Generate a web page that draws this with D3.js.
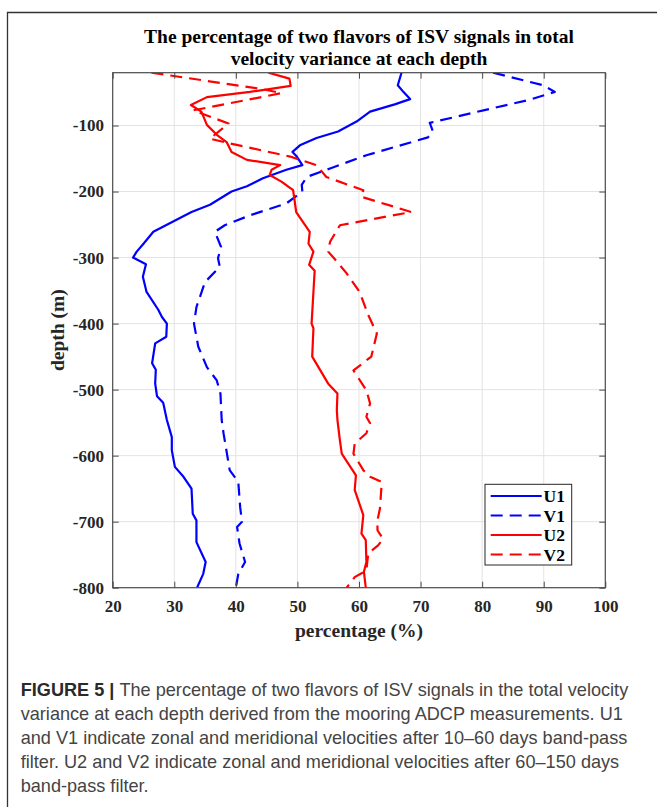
<!DOCTYPE html>
<html>
<head>
<meta charset="utf-8">
<script src="https://cdn.jsdelivr.net/npm/d3@7"></script>
<style>
  body { margin: 0; background: #fff; }
  svg { display: block; }
</style>
</head>
<body>
<svg id="fig" width="657" height="807"></svg>
<script>
// Depth profiles (m) and percentage of total velocity variance (%)
const u1Depth = [-20,-39,-49,-60,-68,-79,-94,-109,-119,-130,-140,-147,-160,-167,-180,-192,-200,-220,-231,-261,-279,-291,-300,-310,-329,-352,-379,-390,-400,-420,-430,-460,-470,-491,-510,-520,-546,-572,-592,-617,-632,-650,-688,-698,-731,-761,-779,-800];
const u1Pct   = [66.9,66.3,67.2,68.3,65.8,61.8,59.6,56.6,53.1,50.4,49.2,49.9,50.8,48.2,44.4,41.8,39.3,35.8,32.8,26.6,25.0,23.9,23.3,25.4,24.9,25.5,27.4,28.0,28.8,28.7,26.9,26.4,27.0,26.9,27.2,28.2,28.8,29.6,29.6,30.1,31.5,32.8,33.0,33.6,33.6,35.1,34.7,33.7];

const v1Depth = [-20,-39,-49,-61,-77,-96,-109,-118,-145,-165,-178,-190,-200,-218,-236,-251,-261,-284,-301,-314,-337,-375,-400,-435,-466,-486,-506,-546,-566,-622,-640,-678,-700,-708,-733,-761,-779,-800];
const v1Pct   = [81.8,89.9,91.8,87.7,80.2,71.5,72.0,71.2,61.2,55.3,51.5,50.7,50.8,48.2,42.3,38.2,36.6,37.6,37.1,37.4,35.0,33.6,33.2,33.9,35.3,36.9,37.5,37.7,38.0,39.0,40.4,40.7,41.0,40.2,40.6,41.5,40.4,40.0];

const u2Depth = [-20,-29,-40,-49,-57,-69,-79,-99,-114,-125,-140,-152,-160,-167,-175,-185,-198,-231,-261,-279,-291,-311,-320,-400,-407,-450,-491,-506,-531,-546,-577,-597,-630,-652,-690,-718,-728,-761,-776,-800];
const u2Pct   = [45.3,48.7,48.9,42.3,35.3,32.7,34.4,35.3,36.9,38.5,39.3,41.8,47.2,45.8,45.5,47.4,49.3,49.8,52.0,51.8,52.6,51.9,52.8,52.3,52.6,52.4,55.0,56.5,56.4,56.5,56.9,57.2,59.5,59.3,60.7,60.4,61.1,61.2,60.8,61.1];

const v2Depth = [-20,-45,-51,-77,-97,-120,-126,-147,-160,-178,-198,-208,-231,-251,-276,-291,-306,-324,-352,-387,-415,-450,-471,-501,-521,-541,-551,-566,-582,-597,-622,-632,-640,-680,-698,-713,-726,-736,-748,-774,-784,-800];
const v2Pct   = [26.3,44.4,47.4,33.1,38.8,35.8,38.5,48.8,53.1,54.7,60.7,60.4,68.5,56.9,55.3,55.0,56.4,58.0,60.1,61.5,62.9,62.0,59.1,61.2,61.8,61.2,61.8,61.2,59.3,59.1,60.7,61.8,63.7,63.4,63.0,63.0,63.9,63.1,61.5,61.2,59.3,58.0];

const seriesNames = ["U1", "V1", "U2", "V2"];
const xTicks = [20, 30, 40, 50, 60, 70, 80, 90, 100];
const yTicks = [-100, -200, -300, -400, -500, -600, -700, -800];

const titleLines = ["The percentage of two flavors of ISV signals in total",
                    "velocity variance at each depth"];
const xLabel = "percentage (%)";
const yLabel = "depth (m)";
const captionHead = "FIGURE 5 | ";
const captionLines = [
  "The percentage of two flavors of ISV signals in the total velocity",
  "variance at each depth derived from the mooring ADCP measurements. U1",
  "and V1 indicate zonal and meridional velocities after 10\u201360 days band-pass",
  "filter. U2 and V2 indicate zonal and meridional velocities after 60\u2013150 days",
  "band-pass filter."
];

// ---- layout ----
const plot = { left: 112.7, right: 605.3, top: 72.7, bottom: 587.7 };
const serif = "'Liberation Serif', 'Times New Roman', serif";
const sans = "'Liberation Sans', Arial, Helvetica, sans-serif";
const colors = { U1: "#0000ff", V1: "#0000ff", U2: "#ff0000", V2: "#ff0000" };
const dashes = { U1: null, V1: "12,7", U2: null, V2: "12,7" };

const svg = d3.select("#fig");

// outer figure frame
svg.append("path")
  .attr("d", "M7.5,820 L7.5,12.5 L670,12.5")
  .attr("fill", "none")
  .attr("stroke", "#333")
  .attr("stroke-width", 1.3);

const x = d3.scaleLinear().domain([20, 100]).range([plot.left, plot.right]);
const y = d3.scaleLinear().domain([-800, -20]).range([plot.bottom, plot.top]);

// grid
const grid = svg.append("g").attr("class", "grid");
grid.selectAll("line.gx").data(xTicks.slice(1, -1)).join("line")
  .attr("x1", d => x(d)).attr("x2", d => x(d))
  .attr("y1", plot.top).attr("y2", plot.bottom)
  .attr("stroke", "#e3e3e3").attr("stroke-width", 1);
grid.selectAll("line.gy").data(yTicks.slice(0, -1)).join("line")
  .attr("y1", d => y(d)).attr("y2", d => y(d))
  .attr("x1", plot.left).attr("x2", plot.right)
  .attr("stroke", "#e3e3e3").attr("stroke-width", 1);

// series
const series = [
  { name: "U1", depth: u1Depth, pct: u1Pct },
  { name: "V1", depth: v1Depth, pct: v1Pct },
  { name: "U2", depth: u2Depth, pct: u2Pct },
  { name: "V2", depth: v2Depth, pct: v2Pct }
];
const line = d3.line().x(d => x(d[0])).y(d => y(d[1]));
svg.append("defs").append("clipPath").attr("id", "plotclip")
  .append("rect")
  .attr("x", plot.left).attr("y", plot.top)
  .attr("width", plot.right - plot.left).attr("height", plot.bottom - plot.top);
const lines = svg.append("g").attr("clip-path", "url(#plotclip)");
series.forEach(s => {
  lines.append("path")
    .datum(d3.zip(s.pct, s.depth))
    .attr("d", line)
    .attr("fill", "none")
    .attr("stroke", colors[s.name])
    .attr("stroke-width", 2.2)
    .attr("stroke-linejoin", "round")
    .attr("stroke-dasharray", dashes[s.name]);
});

// axes (ticks point inward, on all four sides)
const axisColor = "#4a4a4a";
const plainNum = d => String(d);   // ASCII hyphen for negative depths
function styleAxis(g, hideLabels) {
  g.select(".domain").remove();
  g.selectAll(".tick line").attr("stroke", axisColor).attr("stroke-width", 1);
  g.selectAll(".tick text")
    .attr("font-family", serif).attr("font-weight", "bold")
    .attr("font-size", 17).attr("fill", "#262626");
  if (hideLabels) g.selectAll(".tick text").remove();
}
svg.append("g").attr("transform", `translate(0,${plot.bottom})`)
  .call(d3.axisBottom(x).tickValues(xTicks).tickSize(-6).tickPadding(12.5).tickFormat(plainNum))
  .call(g => styleAxis(g, false));
svg.append("g").attr("transform", `translate(0,${plot.top})`)
  .call(d3.axisTop(x).tickValues(xTicks).tickSize(-6))
  .call(g => styleAxis(g, true));
svg.append("g").attr("transform", `translate(${plot.left},0)`)
  .call(d3.axisLeft(y).tickValues(yTicks).tickSize(-6).tickPadding(8.7).tickFormat(plainNum))
  .call(g => styleAxis(g, false));
svg.append("g").attr("transform", `translate(${plot.right},0)`)
  .call(d3.axisRight(y).tickValues(yTicks).tickSize(-6))
  .call(g => styleAxis(g, true));

// plot box
svg.append("rect")
  .attr("x", plot.left).attr("y", plot.top)
  .attr("width", plot.right - plot.left).attr("height", plot.bottom - plot.top)
  .attr("fill", "none").attr("stroke", axisColor).attr("stroke-width", 1.2);

// title
const cx = (plot.left + plot.right) / 2;
svg.append("text")
  .attr("x", cx).attr("text-anchor", "middle")
  .attr("font-family", serif).attr("font-weight", "bold")
  .attr("font-size", 19.5).attr("fill", "#000")
  .selectAll("tspan").data(titleLines).join("tspan")
  .attr("x", cx).attr("y", (d, i) => 42.5 + i * 22.7)
  .text(d => d);

// axis labels
svg.append("text")
  .attr("x", cx).attr("y", 637)
  .attr("text-anchor", "middle")
  .attr("font-family", serif).attr("font-weight", "bold")
  .attr("font-size", 19.5).attr("fill", "#262626")
  .text(xLabel);
svg.append("text")
  .attr("transform", `translate(64,${(plot.top + plot.bottom) / 2}) rotate(-90)`)
  .attr("text-anchor", "middle")
  .attr("font-family", serif).attr("font-weight", "bold")
  .attr("font-size", 19.5).attr("fill", "#262626")
  .text(yLabel);

// legend
const legend = { x0: 485, y0: 484.3, x1: 571.7, y1: 565 };
const lg = svg.append("g");
lg.append("rect")
  .attr("x", legend.x0).attr("y", legend.y0)
  .attr("width", legend.x1 - legend.x0).attr("height", legend.y1 - legend.y0)
  .attr("fill", "#fff").attr("stroke", "#262626").attr("stroke-width", 1);
const rowY = d3.scalePoint().domain(seriesNames).range([496, 554.5]);
seriesNames.forEach(n => {
  lg.append("line")
    .attr("x1", 490.7).attr("x2", 541.7)
    .attr("y1", rowY(n)).attr("y2", rowY(n))
    .attr("stroke", colors[n]).attr("stroke-width", 2.2)
    .attr("stroke-dasharray", dashes[n]);
  lg.append("text")
    .attr("x", 543.5).attr("y", rowY(n) + 6)
    .attr("font-family", serif).attr("font-weight", "bold")
    .attr("font-size", 17.5).attr("fill", "#000")
    .text(n);
});

// caption
const capX = 20.7, capRight = 628;
const capBase = [695.5, 720, 744.3, 768.3, 792.3];
const cap = svg.append("g")
  .attr("font-family", sans).attr("fill", "#444");
// size the caption font so its widest line fills the text column
const probe = cap.append("text").attr("font-size", 100).text(captionLines[2]);
const capSize = 100 * (capRight - capX) / probe.node().getComputedTextLength();
probe.remove();
captionLines.forEach((t, i) => {
  const tx = cap.append("text")
    .attr("x", capX).attr("y", capBase[i])
    .attr("font-size", capSize);
  if (i === 0) {
    tx.append("tspan").attr("font-weight", "bold").attr("fill", "#2a2a2a").text(captionHead);
  }
  tx.append("tspan").text(t);
});
</script>
</body>
</html>
